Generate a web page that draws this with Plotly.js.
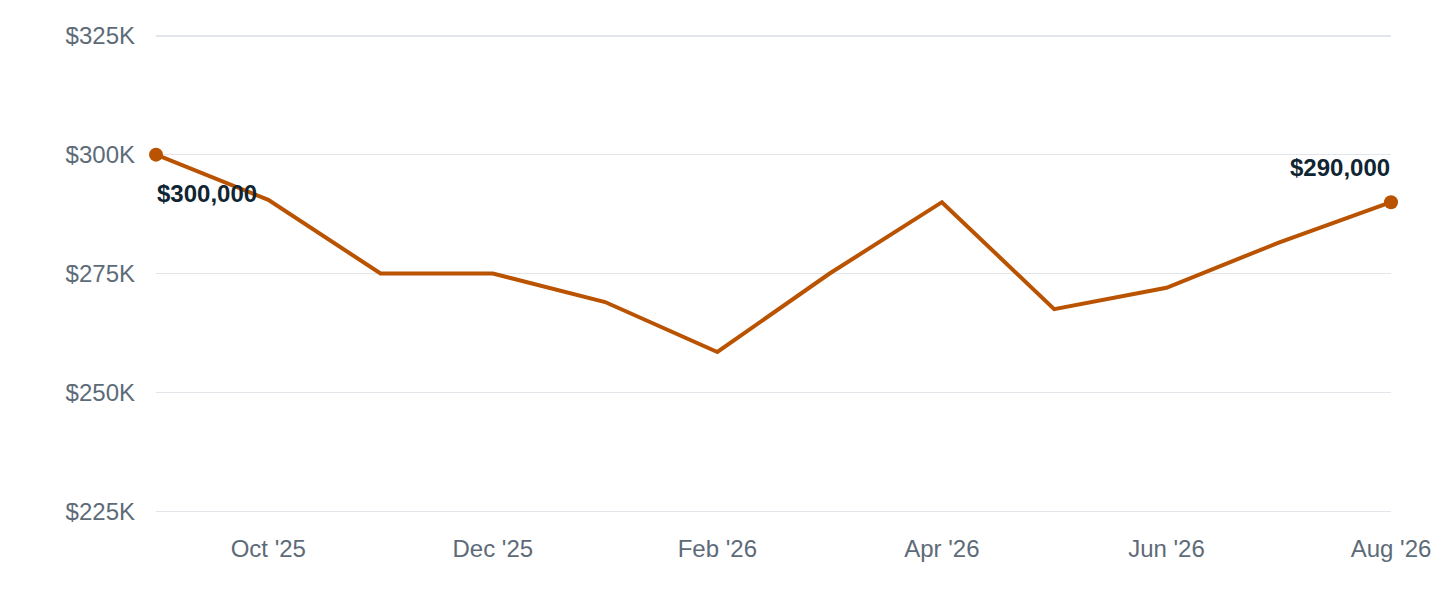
<!DOCTYPE html>
<html>
<head>
<meta charset="utf-8">
<script src="https://cdn.plot.ly/plotly-3.0.1.min.js"></script>
<style>
  html, body { margin: 0; padding: 0; background: #fff; }
  #chart { width: 1440px; height: 600px; }
</style>
</head>
<body>
<div id="chart"></div>
<script>
// monthly values, Sep '25 .. Aug '26
const months = ["Sep '25", "Oct '25", "Nov '25", "Dec '25", "Jan '26", "Feb '26",
                "Mar '26", "Apr '26", "May '26", "Jun '26", "Jul '26", "Aug '26"];
const prices = [300000, 290500, 275000, 275000, 269000, 258500,
                275000, 290000, 267500, 272000, 281500, 290000];
const yTicks = [225000, 250000, 275000, 300000, 325000];
const yTickText = ['$225K', '$250K', '$275K', '$300K', '$325K'];

const idx = months.map((m, i) => i);
const last = idx.length - 1;
const tickIdx = idx.filter(i => i % 2 === 1);

const lineColor = '#b95300';
const fontFam = '"Liberation Sans", Arial, Helvetica, sans-serif';

const line = {
  x: idx,
  y: prices,
  mode: 'lines',
  line: { color: lineColor, width: 4 },
  cliponaxis: false,
  hoverinfo: 'skip',
  showlegend: false
};

const ends = {
  x: [idx[0], idx[last]],
  y: [prices[0], prices[last]],
  mode: 'markers',
  marker: { color: lineColor, size: 14 },
  cliponaxis: false,
  hoverinfo: 'skip',
  showlegend: false
};

function money(v) {
  return '$' + v.toLocaleString('en-US');
}

const layout = {
  width: 1440,
  height: 600,
  // a little headroom on the y range so the end gridlines are drawn
  margin: { l: 156, r: 49, t: 31, b: 84, pad: 0 },
  paper_bgcolor: '#ffffff',
  plot_bgcolor: '#ffffff',
  font: { family: fontFam, size: 24, color: '#5d6b78' },
  xaxis: {
    range: [0, last],
    tickvals: tickIdx,
    ticktext: tickIdx.map(i => months[i]),
    showgrid: false,
    zeroline: false,
    showline: false,
    ticks: '',
    ticklabelstandoff: 16
  },
  yaxis: {
    range: [224000, 326000],
    tickvals: yTicks,
    ticktext: yTickText,
    gridcolor: '#e2e6eb',
    gridwidth: 1.5,
    zeroline: false,
    showline: false,
    ticks: '',
    ticklabelstandoff: 20
  },
  annotations: [
    {
      x: idx[0], y: prices[0],
      text: '<b>' + money(prices[0]) + '</b>',
      showarrow: false,
      xanchor: 'left', yanchor: 'middle',
      xshift: -1, yshift: -39,
      font: { family: fontFam, size: 24, color: '#0f2532' }
    },
    {
      x: idx[last], y: prices[last],
      text: '<b>' + money(prices[last]) + '</b>',
      showarrow: false,
      xanchor: 'right', yanchor: 'middle',
      xshift: 1, yshift: 35,
      font: { family: fontFam, size: 24, color: '#0f2532' }
    }
  ]
};

Plotly.newPlot('chart', [line, ends], layout, { displayModeBar: false, staticPlot: true });
</script>
</body>
</html>
